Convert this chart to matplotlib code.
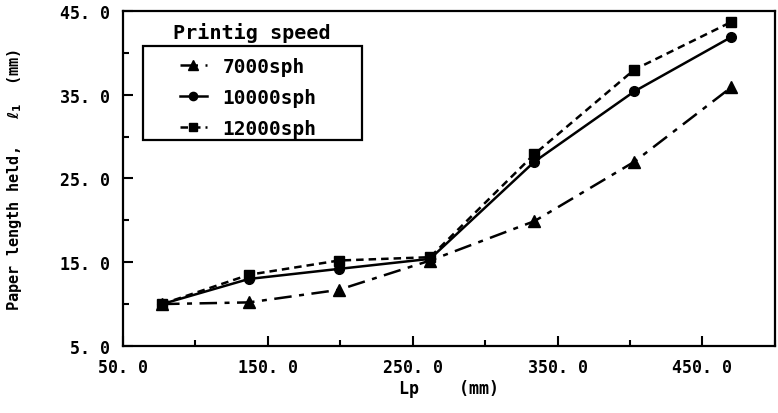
import matplotlib
matplotlib.use("Agg")
import matplotlib.pyplot as plt
from matplotlib.patches import Rectangle
from matplotlib.ticker import MultipleLocator

# values
lp = [77, 137, 199, 262, 334, 403, 470]
held_7000 = [10.0, 10.2, 11.7, 15.2, 19.9, 27.0, 35.9]
held_10000 = [10.0, 13.0, 14.2, 15.4, 27.0, 35.4, 41.9]
held_12000 = [10.0, 13.5, 15.2, 15.6, 27.9, 38.0, 43.7]
series_labels = ["7000sph", "10000sph", "12000sph"]
x_ticks = [50, 150, 250, 350, 450]
y_ticks = [5, 15, 25, 35, 45]

FONT = "DejaVu Sans Mono"
plt.rcParams["font.family"] = [FONT]
plt.rcParams["font.weight"] = "bold"

fig = plt.figure(figsize=(7.78, 4.14), dpi=100)
ax = fig.add_axes([0.158, 0.162, 0.838, 0.809])

kw = dict(color="black", lw=1.8)
ax.plot(lp, held_7000, marker="^", ms=8, dashes=(7, 3, 2, 3),
        label=series_labels[0], **kw)
ax.plot(lp, held_10000, marker="o", ms=7, linestyle="-",
        label=series_labels[1], **kw)
ax.plot(lp, held_12000, marker="s", ms=7, dashes=(3, 2),
        label=series_labels[2], **kw)

ax.set_xlim(50, 500)
ax.set_ylim(5, 45)
ax.set_xticks(x_ticks)
ax.set_yticks(y_ticks)
ax.set_xticklabels([f"{v}. 0" for v in x_ticks])
ax.set_yticklabels([f"{v}. 0" for v in y_ticks])
ax.xaxis.set_minor_locator(MultipleLocator(50))
ax.yaxis.set_minor_locator(MultipleLocator(5))
ax.tick_params(which="both", direction="in", labelsize=12, width=1.5)
ax.tick_params(which="major", length=7)
ax.tick_params(which="minor", length=4)
ax.tick_params(axis="x", pad=9)
ax.tick_params(axis="y", pad=9)
for sp in ax.spines.values():
    sp.set_linewidth(1.6)

ax.set_xlabel("Lp    (mm)", fontsize=12, fontweight="bold")
ax.xaxis.set_label_coords(0.5, -0.1)
ax.set_ylabel(r"Paper length held,   $\ell_1$  (mm)", fontsize=11,
              fontweight="bold")
ax.yaxis.set_label_coords(-0.152, 0.5)

ax.text(0.198, 0.937, "Printig speed", transform=ax.transAxes,
        ha="center", va="center", fontsize=14.5, fontweight="bold")
# legend frame is wider than its entries in the reference
ax.add_patch(Rectangle((0.031, 0.615), 0.336, 0.281, transform=ax.transAxes,
                       fill=False, edgecolor="black", lw=1.6, zorder=5))
ax.legend(loc="upper left", bbox_to_anchor=(0.087, 0.862),
          fontsize=14, frameon=False, handlelength=1.4, markerscale=0.85,
          borderpad=0, labelspacing=0.6, handletextpad=0.8,
          borderaxespad=0)

fig.savefig("out.png", dpi=100)
